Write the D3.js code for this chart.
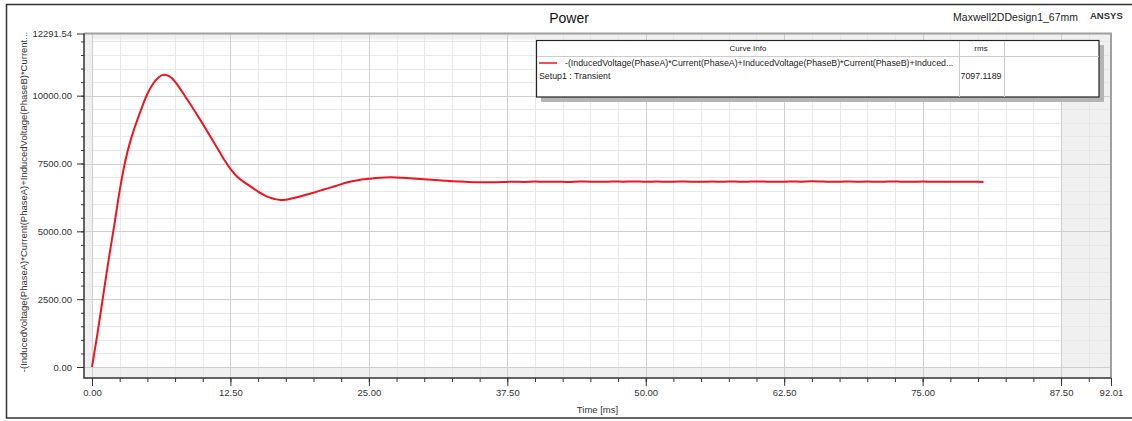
<!DOCTYPE html>
<html>
<head>
<meta charset="utf-8">
<script src="https://cdn.jsdelivr.net/npm/d3@7"></script>
<style>
    body { margin: 0; background: #fff; }
    svg { font-family: "Liberation Sans", Arial, sans-serif; }
    .axis path, .axis line { stroke: #333; }
    .axis text { fill: #333; font-size: 9.5px; }
    .grid-minor { stroke: #e8e8e8; stroke-width: 1px; }
    .grid-major { stroke: #cfcfcf; stroke-width: 1px; }
    .power-line { fill: none; stroke: #f0141e; stroke-width: 2px; stroke-linejoin: round; }
</style>
</head>
<body>
<script>
// time [ms]
const times = [0, 0.5, 1, 1.5, 2, 2.5, 3, 3.5, 4, 4.5, 5, 5.5, 6, 6.5, 7, 7.5, 8, 8.5, 9, 9.5,
    10, 10.5, 11, 11.5, 12, 12.5, 13, 13.5, 14, 14.5, 15, 15.5, 16, 16.5, 17, 17.5, 18, 18.5, 19, 19.5,
    20, 21, 22, 23, 24, 25, 26, 27, 28, 29, 30, 31, 32, 33, 34, 35, 36, 37, 38, 39,
    40, 41, 42, 43, 44, 45, 46, 47, 48, 49, 50, 51, 52, 53, 54, 55, 56, 57, 58, 59,
    60, 61, 62, 63, 64, 65, 66, 67, 68, 69, 70, 71, 72, 73, 74, 75, 76, 77, 78, 79, 80, 80.5];
// power
const power = [0, 1250, 2600, 3950, 5200, 6500, 7580, 8380, 9000, 9560, 10070, 10430, 10670, 10768, 10710, 10520, 10230, 9920, 9610, 9290,
    8960, 8620, 8280, 7940, 7600, 7300, 7060, 6880, 6740, 6600, 6465, 6345, 6250, 6190, 6158, 6168, 6210, 6255, 6310, 6370,
    6425, 6550, 6670, 6800, 6885, 6935, 6975, 6990, 6975, 6950, 6920, 6890, 6865, 6840, 6818, 6808, 6805, 6815, 6828, 6822,
    6834, 6826, 6831, 6820, 6838, 6829, 6824, 6836, 6830, 6841, 6827, 6833, 6825, 6839, 6832, 6828, 6835, 6829, 6837, 6826,
    6840, 6831, 6827, 6836, 6830, 6842, 6833, 6825, 6838, 6829, 6834, 6827, 6836, 6831, 6825, 6834, 6828, 6832, 6826, 6830, 6824, 6822];

const xTicks = [0, 12.5, 25, 37.5, 50, 62.5, 75, 87.5, 92.01];
const yTicks = [0, 2500, 5000, 7500, 10000, 12291.54];
const xMinorStep = 2.5;
const yMinorStep = 500;

const title = "Power";
const designName = "Maxwell2DDesign1_67mm";
const xLabel = "Time [ms]";
const yLabel = "-(InducedVoltage(PhaseA)*Current(PhaseA)+InducedVoltage(PhaseB)*Current...";
const curveName = "-(InducedVoltage(PhaseA)*Current(PhaseA)+InducedVoltage(PhaseB)*Current(PhaseB)+Induced...";
const curveSetup = "Setup1 : Transient";
const curveRms = "7097.1189";

const W = 1132, H = 421;
const frame = {left: 84, right: 1111, top: 33.5, bottom: 378};

const svg = d3.select("body").append("svg")
    .attr("width", W)
    .attr("height", H);

// outer border
svg.append("rect")
    .attr("x", 6.5).attr("y", 4.5)
    .attr("width", W).attr("height", 413.5)
    .attr("fill", "#fff")
    .attr("stroke", "#333")
    .attr("stroke-width", 1.5);

let x = d3.scaleLinear()
    .domain([0, xTicks[xTicks.length - 1]])
    .range([92, frame.right]);
let y = d3.scaleLinear()
    .domain([0, yTicks[yTicks.length - 1]])
    .range([367, frame.top]);

// plot background and the grey out-of-range bands
svg.append("rect")
    .attr("x", frame.left).attr("y", frame.top)
    .attr("width", frame.right - frame.left).attr("height", frame.bottom - frame.top)
    .attr("fill", "#fff");
const band = "#f0f0f0";
svg.append("rect").attr("fill", band)
    .attr("x", frame.left).attr("y", frame.top)
    .attr("width", x(0) - frame.left).attr("height", frame.bottom - frame.top);
svg.append("rect").attr("fill", band)
    .attr("x", frame.left).attr("y", y(0))
    .attr("width", frame.right - frame.left).attr("height", frame.bottom - y(0));
svg.append("rect").attr("fill", band)
    .attr("x", x(87.5)).attr("y", frame.top)
    .attr("width", frame.right - x(87.5)).attr("height", frame.bottom - frame.top);
svg.append("rect").attr("fill", band)
    .attr("x", frame.left).attr("y", frame.top)
    .attr("width", frame.right - frame.left).attr("height", 6);

// grid
const xMinor = d3.range(0, x.domain()[1], xMinorStep);
const yMinor = d3.range(0, y.domain()[1], yMinorStep);
let grid = svg.append("g");
grid.selectAll("line.vmin").data(xMinor).join("line")
    .attr("class", "grid-minor")
    .attr("x1", d => Math.round(x(d)) + 0.5).attr("x2", d => Math.round(x(d)) + 0.5)
    .attr("y1", frame.top).attr("y2", frame.bottom);
grid.selectAll("line.hmin").data(yMinor).join("line")
    .attr("class", "grid-minor")
    .attr("y1", d => Math.round(y(d)) + 0.5).attr("y2", d => Math.round(y(d)) + 0.5)
    .attr("x1", frame.left).attr("x2", frame.right);
grid.selectAll("line.vmaj").data(xTicks.slice(0, -1)).join("line")
    .attr("class", "grid-major")
    .attr("x1", d => Math.round(x(d)) + 0.5).attr("x2", d => Math.round(x(d)) + 0.5)
    .attr("y1", frame.top).attr("y2", frame.bottom);
grid.selectAll("line.hmaj").data(yTicks.slice(0, -1)).join("line")
    .attr("class", "grid-major")
    .attr("y1", d => Math.round(y(d)) + 0.5).attr("y2", d => Math.round(y(d)) + 0.5)
    .attr("x1", frame.left).attr("x2", frame.right);

// top / right frame
svg.append("path")
    .attr("d", `M${frame.left},${frame.top}H${frame.right}V${frame.bottom}`)
    .attr("fill", "none")
    .attr("stroke", "#a0a0a0")
    .attr("stroke-width", 2);

// curve
let line = d3.line()
    .x((d, i) => x(times[i]))
    .y(d => y(d))
    .curve(d3.curveMonotoneX);
svg.append("path")
    .attr("class", "power-line")
    .attr("d", line(power));

// axes
const fmt = d3.format(".2f");
svg.append("g")
    .attr("class", "axis")
    .attr("transform", "translate(" + frame.left + ",0)")
    .call(d3.axisLeft(y).tickValues(yMinor).tickSize(3).tickFormat(""))
    .call(g => g.select(".domain").remove());
svg.append("g")
    .attr("class", "axis")
    .attr("transform", "translate(0," + frame.bottom + ")")
    .call(d3.axisBottom(x).tickValues(xMinor).tickSize(4).tickFormat(""))
    .call(g => g.select(".domain").remove());

svg.append("g")
    .attr("class", "axis y")
    .attr("transform", "translate(" + frame.left + ",0)")
    .call(d3.axisLeft(y).tickValues(yTicks).tickSize(7).tickSizeOuter(0).tickPadding(5).tickFormat(fmt))
    .call(g => g.select(".domain").remove());
svg.append("g")
    .attr("class", "axis x")
    .attr("transform", "translate(0," + frame.bottom + ")")
    .call(d3.axisBottom(x).tickValues(xTicks).tickSize(8).tickSizeOuter(0).tickPadding(3).tickFormat(fmt))
    .call(g => g.select(".domain").remove());

svg.append("path")
    .attr("d", `M${frame.left},${frame.top}V${frame.bottom}H${frame.right}`)
    .attr("fill", "none")
    .attr("stroke", "#333")
    .attr("stroke-width", 1.5);

// titles
svg.append("text").text(title)
    .attr("x", 569).attr("y", 23)
    .attr("text-anchor", "middle")
    .attr("font-size", "14px")
    .attr("fill", "#111");
svg.append("text").text(designName)
    .attr("x", 1078).attr("y", 21)
    .attr("text-anchor", "end")
    .attr("font-size", "10.5px")
    .attr("fill", "#222");
svg.append("text").text("ANSYS")
    .attr("x", 1090).attr("y", 19)
    .attr("font-size", "9.5px")
    .attr("font-weight", "bold")
    .attr("fill", "#333");
svg.append("text").text(xLabel)
    .attr("x", (frame.left + frame.right) / 2).attr("y", 413)
    .attr("text-anchor", "middle")
    .attr("font-size", "9.5px")
    .attr("fill", "#333");
svg.append("text").text(yLabel)
    .attr("transform", "translate(27,202) rotate(-90)")
    .attr("text-anchor", "middle")
    .attr("font-size", "9.5px")
    .attr("fill", "#333");

// legend (curve info table)
let lg = svg.append("g").attr("font-size", "8.8px").attr("fill", "#222");
lg.append("rect")
    .attr("x", 541).attr("y", 45).attr("width", 563).attr("height", 57)
    .attr("fill", "#b4b4b4");
lg.append("rect")
    .attr("x", 536.5).attr("y", 40.5).attr("width", 562.5).attr("height", 56.5)
    .attr("fill", "#fff").attr("stroke", "#222").attr("stroke-width", 1.2);
lg.append("line").attr("x1", 537).attr("x2", 1099).attr("y1", 56.5).attr("y2", 56.5)
    .attr("stroke", "#ccc");
lg.append("line").attr("x1", 959.5).attr("x2", 959.5).attr("y1", 41).attr("y2", 97)
    .attr("stroke", "#ccc");
lg.append("line").attr("x1", 1004.5).attr("x2", 1004.5).attr("y1", 41).attr("y2", 97)
    .attr("stroke", "#ccc");
lg.append("text").text("Curve Info").attr("x", 748).attr("y", 51).attr("text-anchor", "middle").attr("font-size", "8px");
lg.append("text").text("rms").attr("x", 981).attr("y", 51).attr("text-anchor", "middle").attr("font-size", "8px");
lg.append("line").attr("x1", 539).attr("x2", 557).attr("y1", 63).attr("y2", 63)
    .attr("stroke", "#f0141e").attr("stroke-width", 1.5);
lg.append("text").text(curveName).attr("x", 565).attr("y", 66);
lg.append("text").text(curveSetup).attr("x", 539).attr("y", 79);
lg.append("text").text(curveRms).attr("x", 981).attr("y", 79).attr("text-anchor", "middle");
</script>
</body>
</html>
